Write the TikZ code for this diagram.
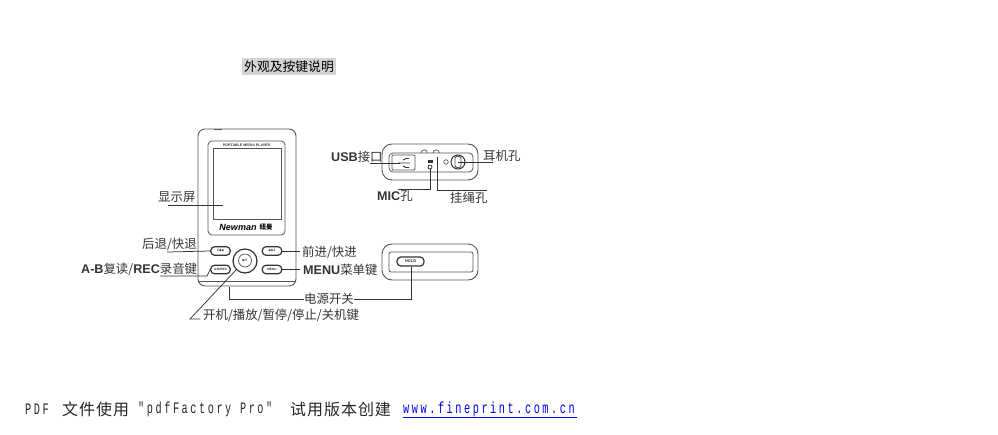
\documentclass[tikz,border=0pt]{standalone}
\usepackage{fontspec}
\setmainfont{Liberation Sans}
\newfontfamily\cjk{Noto Sans CJK SC}
\newfontfamily\cjkwide[LetterSpace=6]{Noto Sans CJK SC}
\newfontfamily\monow[FakeStretch=0.64,LetterSpace=16]{Liberation Mono}
\newfontfamily\dv{DejaVu Sans}
\newcommand{\lat}[1]{{\fontsize{12.6}{12}\selectfont\normalfont\bfseries #1}}
\definecolor{ink}{gray}{0.2}
\definecolor{soft}{gray}{0.33}
\tikzset{
  x=1pt,y=-1pt,
  lbl/.style={inner sep=0,text=ink,font=\fontsize{12.4}{12}\selectfont\cjk,anchor=west},
  foot/.style={inner sep=0,text=black!85,anchor=west},
  body/.style={draw=soft,line width=0.9pt,rounded corners=7pt},
  panel/.style={draw=soft,line width=0.8pt,rounded corners=4pt},
  key/.style={draw=ink,line width=1.2pt,rounded corners=3.8pt,inner sep=0,minimum width=19.5pt,minimum height=8.5pt,font=\fontsize{3.2}{3}\selectfont\bfseries,text=ink},
  wire/.style={draw=ink,line width=0.75pt},
}
\begin{document}
\begin{tikzpicture}
\useasboundingbox (0,0) rectangle (998,434);
% title
\node[fill=black!17,inner sep=0,minimum width=94pt,minimum height=17pt,font=\fontsize{12.8}{13}\selectfont\cjk,text=black] (title) at (289,66.5) {外观及按键说明};
% front view
\draw[body] (198,129) rectangle (296,286);
\draw[soft,line width=0.5pt] (198,281) -- (296,281);
\draw[soft,line width=0.8pt] (214,129) -- (222,129);
\node[panel,minimum width=77pt,minimum height=94pt,inner sep=0] (frame) at (246.5,188) {};
\node[draw=soft,line width=0.8pt,minimum width=68pt,minimum height=71pt,inner sep=0] (screen) at (247,183.5) {};
\node[inner sep=0,font=\fontsize{3.6}{4}\selectfont\bfseries,text=ink] (brand) at (246.5,145) {PORTABLE MEDIA PLAYER};
\node[inner sep=0,font=\fontsize{9}{8}\selectfont\bfseries\itshape,text=black] (logo) at (238,227) {Newman};
\node[inner sep=0,font=\fontsize{6.5}{6}\selectfont\cjk\bfseries,text=black] (logocn) at (266,227) {纽曼};
\node[key] (prev) at (220.5,251) {\dv I◀◀};
\node[key] (ab) at (220.5,269.5) {A-B/REC};
\node[key] (next) at (272,251) {\dv ▶▶I};
\node[key] (menu) at (272,269.5) {MENU};
\node[circle,draw=ink,line width=1.2pt,minimum size=24pt,inner sep=0] (wheel) at (245,261) {};
\node[circle,draw=soft,line width=0.7pt,minimum size=13pt,inner sep=0,font=\fontsize{3.5}{4}\selectfont\dv,text=ink] (play) at (245,260.5) {▶II};
% front labels
\node[lbl] (disp) at (158,197) {显示屏};
\coordinate (dispend) at (168,205);
\coordinate (dispin) at (223,205);
\draw[wire] (dispend) -- (dispin);
\node[lbl] (back) at (142,244) {后退/快退};
\coordinate (backend) at (167,252);
\draw[wire] (backend) -- (prev.west);
\node[lbl] (abl) at (81,269) {\lat{A-B}复读/\lat{REC}录音键};
\coordinate (abend) at (160,276);
\coordinate (abknee) at (207,276);
\draw[wire] (abend) -- (abknee) -- (ab.west);
\node[lbl] (fwd) at (302,252) {前进/快进};
\coordinate (nextend) at (300,251);
\draw[wire] (next.east) -- (nextend);
\node[lbl] (menul) at (303,269.5) {\lat{MENU}菜单键};
\coordinate (menuend) at (300,269.5);
\draw[wire,line width=1.1pt] (menu.east) -- (menuend);
\node[lbl] (power) at (304,299) {电源开关};
\coordinate (swfront) at (229,287);
\coordinate (swknee) at (229,299);
\draw[wire] (swfront) -- (swknee) -- (power.west);
\node[lbl] (playl) at (203,315) {开机/播放/暂停/停止/关机键};
\coordinate (pk) at (190,319);
\coordinate (pend) at (200,319);
\draw[wire] (pend) -- (pk) -- (wheel.south west);
% top view
\draw[body,rounded corners=10pt] (382,144) rectangle (478,180);
\node[panel,minimum width=84pt,minimum height=19pt,inner sep=0] (toppanel) at (431,162.5) {};
\node[draw=soft,line width=0.9pt,rounded corners=1pt,minimum width=23pt,minimum height=15pt,inner sep=0] (usb) at (403.5,162.5) {};
\draw[ink,line width=0.9pt] (398,163) -- (410,163) (403,160) -- (406,158.5) -- (409,158.5) (403,166) -- (406,167.5) -- (409,167.5);
\node[circle,draw=ink,line width=1pt,minimum size=14pt,inner sep=0] (jack) at (458,162) {};
\node[draw=soft,line width=0.9pt,rounded corners=2pt,minimum width=6pt,minimum height=11pt,inner sep=0,fill=white] (jackin) at (458,162) {};
\node[circle,draw=soft,line width=0.7pt,minimum size=4.5pt,inner sep=0] (led) at (446,162) {};
\node[circle,draw=ink,line width=0.8pt,minimum size=4pt,inner sep=0] (mic) at (430,167) {};
\node[draw=ink,fill=ink,minimum width=4pt,minimum height=1.5pt,inner sep=0] (micmark) at (430,161) {};
\draw[soft,line width=0.7pt] (421,153) arc[start angle=180,end angle=360,radius=3.2];
\draw[soft,line width=0.7pt] (433,153) arc[start angle=180,end angle=360,radius=3.2];
\coordinate (strapin) at (437,157);
\node[lbl] (usbl) at (331,157) {\lat{USB}接口};
\coordinate (usbend) at (370,163);
\coordinate (usbin) at (400,163);
\draw[wire] (usbend) -- (usbin);
\node[lbl] (earl) at (483,156) {耳机孔};
\coordinate (earend) at (493,162);
\draw[wire] (jackin.center) -- (earend);
\node[lbl] (micl) at (377,196) {\lat{MIC}孔};
\coordinate (mk) at (430,189);
\coordinate (mend) at (398,189);
\draw[wire] (mic.south) -- (mk) -- (mend);
\node[lbl] (strapl) at (450,198) {挂绳孔};
\coordinate (sk) at (437,190);
\coordinate (send) at (487,190);
\draw[wire] (strapin) -- (sk) -- (send);
% bottom view
\draw[body,rounded corners=10pt] (382,244) rectangle (478,280);
\node[panel,rounded corners=2pt,minimum width=84pt,minimum height=20pt,inner sep=0] (botpanel) at (431,262) {};
\node[key,minimum width=27pt,minimum height=9pt,font=\fontsize{4}{4}\selectfont\bfseries] (hold) at (410.5,261.5) {HOLD};
\coordinate (hk) at (411,299);
\draw[wire] (power.east) -- (hk) -- (hold.south -| hk);
% footer
\node[foot,font=\fontsize{16}{16}\selectfont\monow] (f1) at (25,409) {PDF};
\node[foot,font=\fontsize{16}{16}\selectfont\cjkwide] (f2) at (62,409) {文件使用};
\node[foot,font=\fontsize{16}{16}\selectfont\monow] (f3) at (138,409) {"pdfFactory Pro"};
\node[foot,font=\fontsize{16}{16}\selectfont\cjkwide] (f4) at (290,409) {试用版本创建};
\node[foot,text=blue!90!black,font=\fontsize{16}{16}\selectfont\monow] (f5) at (403,409) {www.fineprint.com.cn};
\coordinate (ua) at (403,417.5);
\coordinate (ub) at (577,417.5);
\draw[blue!90!black,line width=0.8pt] (ua) -- (ub);
\end{tikzpicture}
\end{document}
